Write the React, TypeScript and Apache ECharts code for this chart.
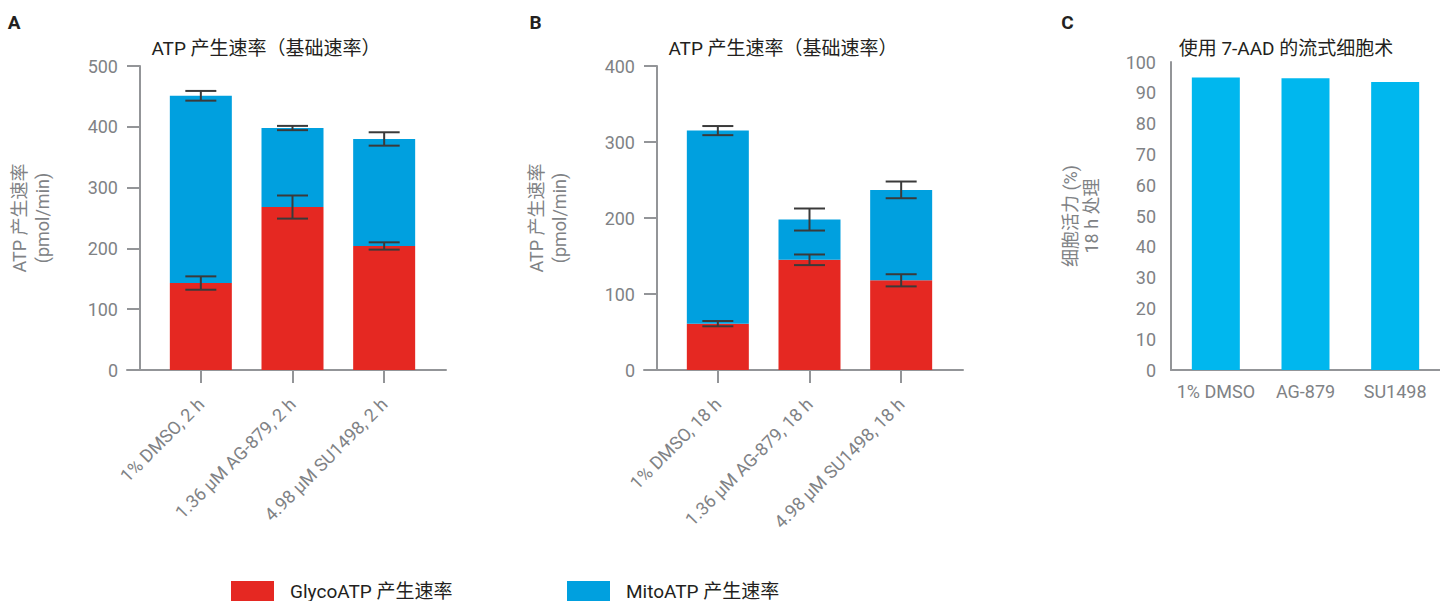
import React, { useEffect, useRef } from 'react';
import * as echarts from 'echarts';

// ---------- data ----------
const categoriesA = ['1% DMSO, 2 h', '1.36 μM AG-879, 2 h', '4.98 μM SU1498, 2 h'];
const glycoA = [143, 268, 204];
const mitoA = [308, 130, 176];
const glycoErrA = [11, 19, 6];
const totalErrA = [8, 3.5, 11];

const categoriesB = ['1% DMSO, 18 h', '1.36 μM AG-879, 18 h', '4.98 μM SU1498, 18 h'];
const glycoB = [61, 145, 118];
const mitoB = [254, 53, 119];
const glycoErrB = [3.5, 7, 8];
const totalErrB = [6, 14.5, 11];

const categoriesC = ['1% DMSO', 'AG-879', 'SU1498'];
const viabilityC = [95, 94.7, 93.5];

const yTicksA = [0, 100, 200, 300, 400, 500];
const yTicksB = [0, 100, 200, 300, 400];
const yTicksC = [0, 10, 20, 30, 40, 50, 60, 70, 80, 90, 100];

const titleAB = 'ATP 产生速率（基础速率）';
const titleC = '使用 7-AAD 的流式细胞术';
const yNameAB = 'ATP 产生速率\n(pmol/min)';
const yNameC = '细胞活力 (%)\n18 h 处理';
const seriesGlyco = 'GlycoATP 产生速率';
const seriesMito = 'MitoATP 产生速率';
const seriesViab = '细胞活力';

// ---------- style ----------
const FONT = 'Roboto, "Noto Sans CJK SC", sans-serif';
const RED = '#e52822';
const BLUE = '#00a0df';
const CYAN = '#00b7ee';
const AXIS = '#939598';
const LABEL = '#808285';
const DARK = '#231f20';
const ERR = '#3a3a3a';

const errRows = (base: number[], add: number[] | null, err: number[]) =>
  base.map((v, i) => {
    const c = v + (add ? add[i] : 0);
    return [i, c - err[i], c + err[i]];
  });

const errorSeries = (xAxisIndex: number, yAxisIndex: number, data: number[][]) => ({
  type: 'custom',
  xAxisIndex,
  yAxisIndex,
  data,
  z: 5,
  silent: true,
  encode: { x: 0, y: [1, 2] },
  renderItem: (_p: any, api: any) => {
    const x = api.value(0);
    const lo = api.coord([x, api.value(1)]);
    const hi = api.coord([x, api.value(2)]);
    const hw = 15.5;
    const style = { stroke: ERR, lineWidth: 2 };
    return {
      type: 'group',
      children: [
        { type: 'line', shape: { x1: lo[0], y1: lo[1], x2: hi[0], y2: hi[1] }, style },
        { type: 'line', shape: { x1: hi[0] - hw, y1: hi[1], x2: hi[0] + hw, y2: hi[1] }, style },
        { type: 'line', shape: { x1: lo[0] - hw, y1: lo[1], x2: lo[0] + hw, y2: lo[1] }, style },
      ],
    };
  },
});

const catAxis = (gridIndex: number, data: string[]) => ({
  type: 'category',
  gridIndex,
  data,
  axisLine: { show: false },
  axisTick: { show: true, alignWithLabel: true, length: 13, lineStyle: { color: AXIS, width: 2 } },
  axisLabel: { rotate: 45, margin: 31, fontSize: 18, fontFamily: FONT, color: LABEL, interval: 0 },
});

const lineAxis = (gridIndex: number) => ({
  type: 'value',
  gridIndex,
  min: 0,
  max: 1,
  axisLine: { show: true, lineStyle: { color: AXIS, width: 2 } },
  axisTick: { show: false },
  axisLabel: { show: false },
  splitLine: { show: false },
});

const hiddenY = (gridIndex: number) => ({
  type: 'value',
  gridIndex,
  min: 0,
  max: 1,
  show: false,
});

const valAxis = (gridIndex: number, ticks: number[], name: string) => ({
  type: 'value',
  gridIndex,
  min: ticks[0],
  max: ticks[ticks.length - 1],
  interval: ticks[1] - ticks[0],
  offset: 15,
  axisLine: { show: true, lineStyle: { color: AXIS, width: 2 } },
  axisTick: { show: true, length: 13, lineStyle: { color: AXIS, width: 2 } },
  axisLabel: { margin: 22, fontSize: 18, fontFamily: FONT, color: LABEL },
  splitLine: { show: false },
  name,
  nameLocation: 'middle',
  nameGap: 86,
  nameTextStyle: { fontSize: 18, lineHeight: 23, fontFamily: FONT, color: LABEL },
});

const textEl = (x: number, y: number, text: string, size: number, bold = false) => ({
  type: 'text',
  x,
  y,
  silent: true,
  style: {
    text,
    fill: DARK,
    fontSize: size,
    fontFamily: FONT,
    fontWeight: bold ? 'bold' : 'normal',
    align: 'center',
    verticalAlign: 'middle',
    textAlign: 'center',
    textVerticalAlign: 'middle',
  },
});

const legendBase = {
  top: 581,
  padding: 0,
  itemWidth: 43,
  itemHeight: 20,
  icon: 'rect',
  selectedMode: false,
  textStyle: { fontSize: 19, fontFamily: FONT, color: DARK, padding: [0, 0, 0, 11] },
};

const option: any = {
  animation: false,
  backgroundColor: '#ffffff',
  textStyle: { fontFamily: FONT },
  grid: [
    { left: 155, top: 66, width: 275, height: 304 },
    { left: 127, top: 66, width: 319, height: 304 },
    { left: 672, top: 66, width: 275, height: 304 },
    { left: 644, top: 66, width: 319, height: 304 },
    { left: 1171, top: 62, width: 276, height: 308 },
  ],
  xAxis: [
    catAxis(0, categoriesA),
    lineAxis(1),
    catAxis(2, categoriesB),
    lineAxis(3),
    {
      type: 'category',
      gridIndex: 4,
      data: categoriesC,
      axisLine: { show: true, lineStyle: { color: AXIS, width: 2 } },
      axisTick: { show: false },
      axisLabel: { margin: 12, fontSize: 18, fontFamily: FONT, color: LABEL, interval: 0 },
    },
  ],
  yAxis: [
    valAxis(0, yTicksA, yNameAB),
    hiddenY(1),
    valAxis(2, yTicksB, yNameAB),
    hiddenY(3),
    {
      type: 'value',
      gridIndex: 4,
      min: yTicksC[0],
      max: yTicksC[yTicksC.length - 1],
      interval: yTicksC[1] - yTicksC[0],
      axisLine: { show: true, lineStyle: { color: AXIS, width: 2 } },
      axisTick: { show: false },
      axisLabel: { margin: 15, fontSize: 18, fontFamily: FONT, color: LABEL },
      splitLine: { show: false },
      name: yNameC,
      nameLocation: 'middle',
      nameGap: 69,
      nameTextStyle: { fontSize: 18, lineHeight: 21, fontFamily: FONT, color: LABEL },
    },
  ],
  legend: [
    { ...legendBase, left: 231, data: [seriesGlyco] },
    { ...legendBase, left: 567, data: [seriesMito] },
  ],
  series: [
    { name: seriesGlyco, type: 'bar', xAxisIndex: 0, yAxisIndex: 0, stack: 'A', barWidth: 62, data: glycoA, itemStyle: { color: RED } },
    { name: seriesMito, type: 'bar', xAxisIndex: 0, yAxisIndex: 0, stack: 'A', barWidth: 62, data: mitoA, itemStyle: { color: BLUE } },
    errorSeries(0, 0, errRows(glycoA, null, glycoErrA)),
    errorSeries(0, 0, errRows(glycoA, mitoA, totalErrA)),
    { name: seriesGlyco, type: 'bar', xAxisIndex: 2, yAxisIndex: 2, stack: 'B', barWidth: 62, data: glycoB, itemStyle: { color: RED } },
    { name: seriesMito, type: 'bar', xAxisIndex: 2, yAxisIndex: 2, stack: 'B', barWidth: 62, data: mitoB, itemStyle: { color: BLUE } },
    errorSeries(2, 2, errRows(glycoB, null, glycoErrB)),
    errorSeries(2, 2, errRows(glycoB, mitoB, totalErrB)),
    { name: seriesViab, type: 'bar', xAxisIndex: 4, yAxisIndex: 4, barWidth: 48, data: viabilityC, itemStyle: { color: CYAN } },
  ],
  graphic: [
    textEl(14, 22, 'A', 19, true),
    textEl(535.5, 22, 'B', 19, true),
    textEl(1067.5, 22, 'C', 19, true),
    textEl(266, 48, titleAB, 19),
    textEl(783, 48, titleAB, 19),
    textEl(1286, 48, titleC, 19),
  ],
};

export default function App() {
  const ref = useRef<HTMLDivElement>(null);
  useEffect(() => {
    const chart = echarts.init(ref.current as HTMLDivElement, null, { renderer: 'svg' });
    chart.setOption(option);
    return () => chart.dispose();
  }, []);
  return (
    <div
      ref={ref}
      style={{ position: 'fixed', left: 0, top: 0, width: 1440, height: 601, background: '#fff' }}
    />
  );
}
